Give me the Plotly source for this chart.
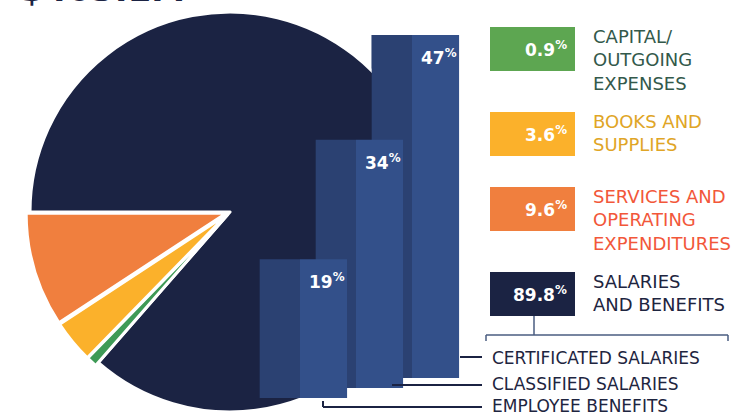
import plotly.graph_objects as go

W, H = 746, 417

# ---- data ----
pie_labels = ["Salaries and Benefits", "Capital/Outgoing Expenses",
              "Books and Supplies", "Services and Operating Expenditures"]
pie_values = [89.8, 0.9, 3.6, 9.6]
pie_colors = ["#1B2343", "#3E9A56", "#FBB12B", "#F07F3E"]

legend_values = ["0.9", "3.6", "9.6", "89.8"]
legend_texts = ["CAPITAL/<br>OUTGOING<br>EXPENSES", "BOOKS AND<br>SUPPLIES",
                "SERVICES AND<br>OPERATING<br>EXPENDITURES", "SALARIES<br>AND BENEFITS"]
legend_box_colors = ["#5DA651", "#FBB12B", "#F07F3E", "#1B2343"]
legend_text_colors = ["#33594B", "#E0A526", "#F2573A", "#1E2540"]

bar_labels = ["Employee Benefits", "Classified Salaries", "Certificated Salaries"]
bar_values = [19, 34, 47]

sub_labels = ["CERTIFICATED SALARIES", "CLASSIFIED SALARIES", "EMPLOYEE BENEFITS"]
header = "$463.1M"

# ---- style constants ----
FONT = "DejaVu Sans"
SIDE_W, FRONT_W = 0.72, 0.84      # in bar-axis units
PX_PER_UNIT_X = 56
PX_PER_UNIT_Y = 7.3
DEPTH_STEP = 10 / PX_PER_UNIT_Y   # perspective step between bars
LABEL_DROP = 22 / PX_PER_UNIT_Y
SIDE_COLOR = "#2B4172"
FRONT_COLOR = "#33508A"
PULL = 0.02


def px(x, y):
    return x / W, 1 - y / H


fig = go.Figure()

# bars as traces (cartesian layer, underneath the pie)
idx = list(range(len(bar_values)))
bases = [i * DEPTH_STEP for i in idx]
fig.add_trace(go.Bar(
    x=idx, y=bar_values, base=bases, width=SIDE_W, offset=-SIDE_W,
    marker=dict(color=SIDE_COLOR, line=dict(width=0)),
    xaxis="x2", yaxis="y2", showlegend=False, hoverinfo="skip",
))
fig.add_trace(go.Bar(
    x=idx, y=bar_values, base=bases, width=FRONT_W, offset=0,
    marker=dict(color=FRONT_COLOR, line=dict(width=0)),
    xaxis="x2", yaxis="y2", showlegend=False,
    customdata=bar_labels, hovertemplate="%{customdata}: %{y}%<extra></extra>",
))

# pie
r = 204
cx, cy = 230, 212
fig.add_trace(go.Pie(
    labels=pie_labels, values=pie_values, sort=False,
    direction="clockwise", rotation=270,
    marker=dict(colors=pie_colors, line=dict(color="white", width=3)),
    pull=[0, PULL, PULL, PULL], textinfo="none", hoverinfo="label+value",
    domain=dict(x=[(cx - r) / W, (cx + r) / W],
                y=[max(0, 1 - (cy + r) / H), min(1, 1 - (cy - r) / H)]),
    showlegend=False,
))

annotations = []
shapes = []

# bar faces redrawn above the pie layer, on the bar axes, from the data
for i in reversed(idx):
    b, v = bases[i], bar_values[i]
    shapes.append(dict(type="rect", xref="x2", yref="y2", x0=i - SIDE_W, x1=i,
                       y0=b, y1=b + v, fillcolor=SIDE_COLOR, line=dict(width=0),
                       layer="above"))
    shapes.append(dict(type="rect", xref="x2", yref="y2", x0=i, x1=i + FRONT_W,
                       y0=b, y1=b + v, fillcolor=FRONT_COLOR, line=dict(width=0),
                       layer="above"))
    annotations.append(dict(text=f"<b>{v}<sup>%</sup></b>", xref="x2", yref="y2",
                            x=i + FRONT_W / 2 + 0.06, y=b + v - LABEL_DROP,
                            showarrow=False,
                            font=dict(family=FONT, size=17, color="white")))

x_lo = -300 / PX_PER_UNIT_X
x_hi = x_lo + W / PX_PER_UNIT_X
y_lo = -19 / PX_PER_UNIT_Y
y_hi = y_lo + H / PX_PER_UNIT_Y

# legend boxes + labels
box_tops = [27, 112, 187, 272]
for val, txt, bc, tc, top in zip(legend_values, legend_texts, legend_box_colors,
                                  legend_text_colors, box_tops):
    bx0, by0 = px(490, top)
    bx1, by1 = px(575, top + 44)
    shapes.append(dict(type="rect", xref="paper", yref="paper", x0=bx0, x1=bx1,
                       y0=by1, y1=by0, fillcolor=bc, line=dict(width=0), layer="above"))
    tx, ty = px(569, top + 22)
    annotations.append(dict(text=f"<b>{val}<sup>%</sup></b>", x=tx, y=ty, xref="paper",
                            yref="paper", xanchor="right", yanchor="middle",
                            showarrow=False, font=dict(family=FONT, size=17, color="white")))
    lx, ly = px(591, top - 3)
    annotations.append(dict(text=txt, x=lx, y=ly, xref="paper", yref="paper",
                            xanchor="left", yanchor="top", align="left", showarrow=False,
                            font=dict(family=FONT, size=18, color=tc)))

# bracket under salaries box
bcol = "#4A5C80"
for (xa, ya, xb, yb) in [(534, 316, 534, 335), (486, 335, 728, 335),
                         (486, 335, 486, 341), (728, 335, 728, 341)]:
    x0, y0 = px(xa, ya)
    x1, y1 = px(xb, yb)
    shapes.append(dict(type="line", xref="paper", yref="paper", x0=x0, y0=y0,
                       x1=x1, y1=y1, line=dict(color=bcol, width=1.5), layer="above"))

# leader lines from bars to sub labels
lcol = "#1B2343"
for (xa, ya, xb, yb) in [(460, 357, 482, 357), (392, 385, 482, 385),
                         (323, 407, 482, 407), (323, 401, 323, 407)]:
    x0, y0 = px(xa, ya)
    x1, y1 = px(xb, yb)
    shapes.append(dict(type="line", xref="paper", yref="paper", x0=x0, y0=y0,
                       x1=x1, y1=y1, line=dict(color=lcol, width=2), layer="above"))

for lab, yy in zip(sub_labels, [358, 384, 406]):
    lx, ly = px(490, yy)
    annotations.append(dict(text=lab, x=lx, y=ly, xref="paper", yref="paper",
                            xanchor="left", yanchor="middle", showarrow=False,
                            font=dict(family=FONT, size=17, color="#1E2540")))

# header (cut off at top, as in the original)
hx, hy = px(18, -11)
annotations.append(dict(text=f"<b>{header}</b>", x=hx, y=hy, xref="paper", yref="paper",
                        xanchor="left", yanchor="middle", showarrow=False,
                        font=dict(family=FONT, size=34, color="#1B2343")))

fig.update_layout(
    width=W, height=H, margin=dict(l=0, r=0, t=0, b=0),
    paper_bgcolor="white", plot_bgcolor="rgba(0,0,0,0)",
    barmode="overlay",
    xaxis2=dict(domain=[0, 1], range=[x_lo, x_hi], visible=False, anchor="y2"),
    yaxis2=dict(domain=[0, 1], range=[y_lo, y_hi], visible=False, anchor="x2"),
    annotations=annotations, shapes=shapes,
)

fig.write_html("out.html", config={"displayModeBar": False},
               post_script="document.body.style.margin='0px';")
